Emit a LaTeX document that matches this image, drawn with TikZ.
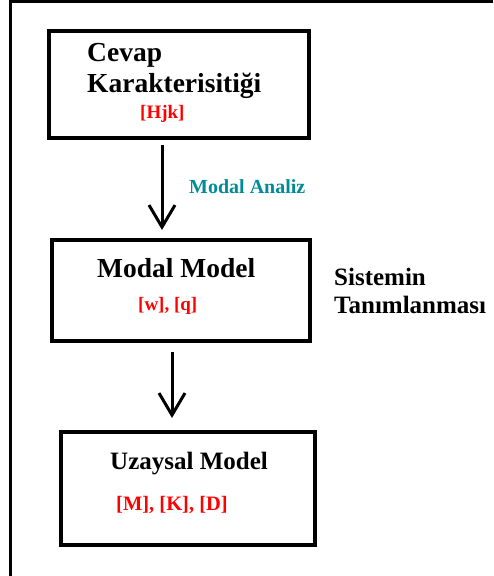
\documentclass[tikz,border=0pt]{standalone}
\usepackage{fontspec}
\setmainfont{Liberation Serif}
\usepackage{xcolor}
\usepackage{tikz}
\usetikzlibrary{arrows.meta, positioning}

\definecolor{tealtxt}{RGB}{0,140,150}

\begin{document}
\begin{tikzpicture}[
    box/.style={draw=black, line width=3.5pt, fill=none,
                inner sep=0pt, anchor=north west},
    ttl/.style={font=\bfseries\fontsize{27.5}{29}\selectfont,
                inner sep=0pt, anchor=base west},
    mtx/.style={font=\bfseries\fontsize{19}{21}\selectfont, text=red,
                inner sep=0pt, anchor=base west},
    arr/.style={-{Straight Barb[length=22pt, width=26pt]}, line width=3pt},
    x=1pt, y=-1pt
  ]
  \useasboundingbox (0,0) rectangle (493,576);

  % frame
  \coordinate (fl) at (10,576);
  \coordinate (ft) at (493,1.5);
  \draw[line width=3pt] (fl) |- (ft);

  % Cevap Karakterisitigi
  \node[box, minimum width=260pt, minimum height=107pt] (cevap) at (47,29) {};
  \node[ttl] (cev1) at (87,61) {Cevap};
  \node[ttl] (cev2) at (87,92) {Karakterisitiği};
  \node[mtx] (hjk) at (140,118) {[Hjk]};

  % Modal Model
  \node[box, minimum width=258pt, minimum height=101pt] (modal) at (50,238) {};
  \node[ttl] (mod1) at (97,277) {Modal Model};
  \node[mtx] (wq) at (138,310) {[w], [q]};

  % Uzaysal Model
  \node[box, minimum width=254pt, minimum height=113pt] (uzay) at (59,430) {};
  \node[ttl, font=\bfseries\fontsize{25}{27}\selectfont] (uz1) at (110,469) {Uzaysal Model};
  \node[mtx, font=\bfseries\fontsize{20.5}{22}\selectfont] (mkd) at (116,510) {[M], [K], [D]};

  % side labels
  \node[ttl, font=\bfseries\fontsize{20}{22}\selectfont, text=tealtxt] (analiz) at (189,193) {Modal Analiz};
  \node[ttl, font=\bfseries\fontsize{25}{27}\selectfont] (sis1) at (334,285) {Sistemin};
  \node[ttl, font=\bfseries\fontsize{25}{27}\selectfont] (sis2) at (334,313) {Tanımlanması};

  % arrows
  \coordinate (a1) at (162,0);
  \coordinate (a2) at (172,0);
  \draw[arr, shorten <=5pt, shorten >=8pt] (cevap.south -| a1) -- (modal.north -| a1);
  \draw[arr, shorten <=9pt, shorten >=12pt] (modal.south -| a2) -- (uzay.north -| a2);
\end{tikzpicture}
\end{document}
